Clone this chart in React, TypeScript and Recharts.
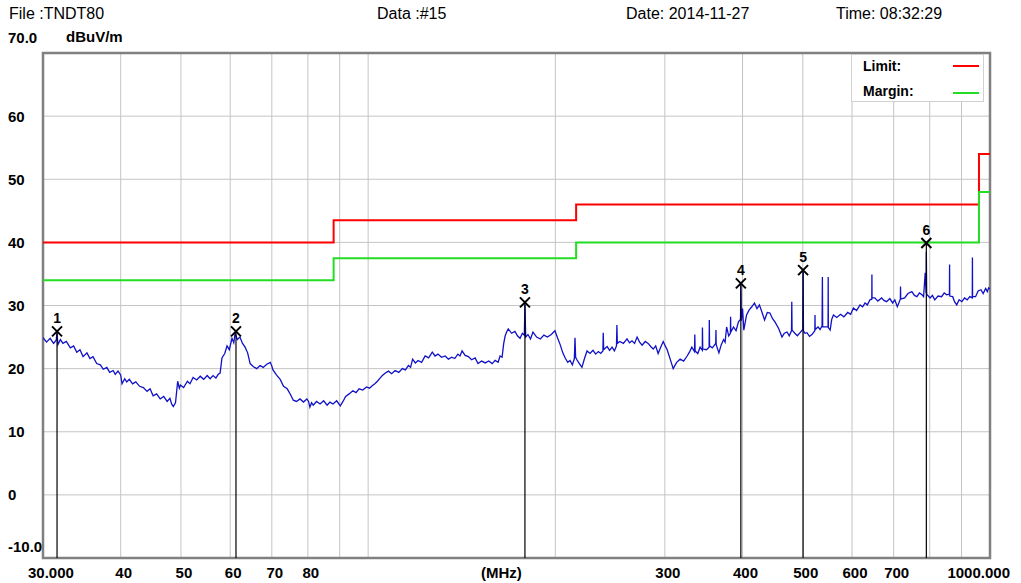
import {
  ComposedChart,
  Line,
  Scatter,
  XAxis,
  YAxis,
  CartesianGrid,
  ReferenceLine,
  ReferenceArea,
} from "recharts";

// measured trace as [MHz, dBuV/m], split by band
const TRACE_LOW: [number, number][] = [
  [30.0, 24.9], [30.4, 24.2], [30.8, 24.8], [31.2, 24.0], [31.5, 24.5], [31.6, 25.7], [31.7, 23.8],
  [32.0, 24.6], [32.3, 24.0], [32.7, 24.3], [33.2, 23.3], [33.6, 23.6], [34.0, 22.6], [34.4, 23.0],
  [34.8, 21.9], [35.3, 22.5], [35.7, 21.6], [36.1, 21.9], [36.6, 20.8], [37.1, 20.6], [37.5, 19.9],
  [38.0, 20.2], [38.4, 19.4], [38.9, 19.7], [39.2, 19.1], [39.6, 19.6], [40.0, 19.0], [40.2, 17.6],
  [40.6, 18.4], [40.9, 17.9], [41.3, 18.3], [41.8, 17.6], [42.3, 17.9], [42.9, 17.2], [43.5, 17.0],
  [44.1, 16.4], [44.6, 16.8], [45.1, 15.7], [45.7, 16.0], [46.3, 15.2], [46.9, 15.6], [47.5, 14.8],
  [48.0, 15.3], [48.3, 14.4], [48.6, 14.0], [49.0, 14.6], [49.4, 18.0], [49.7, 16.9], [49.9, 17.4],
  [50.5, 17.0], [51.2, 18.0], [51.7, 17.6], [52.3, 18.6], [53.0, 18.2], [53.7, 18.8], [54.4, 18.3],
  [55.1, 18.9], [55.7, 18.4], [56.3, 18.9], [56.9, 18.5], [57.4, 19.1], [57.8, 19.3], [58.2, 21.7],
  [58.8, 22.4], [59.3, 23.6], [59.8, 23.0], [60.4, 24.8], [60.8, 24.1], [61.1, 25.6], [61.6, 24.6],
  [62.2, 25.0], [62.8, 24.0], [63.4, 23.4], [64.0, 22.5], [64.6, 20.8], [65.4, 20.3], [66.2, 20.0],
  [67.0, 20.5], [67.8, 20.2], [68.7, 20.7], [69.6, 21.0], [70.0, 20.4], [70.3, 19.8], [71.2, 19.0],
  [72.2, 18.3], [73.1, 17.2], [74.1, 16.8], [75.0, 15.9], [75.8, 15.0], [76.7, 14.8], [77.7, 15.2],
  [78.7, 14.7], [79.7, 15.2], [80.2, 14.8], [80.6, 13.9], [81.1, 14.6], [81.6, 14.2], [82.6, 14.8],
  [83.7, 14.4], [84.8, 14.9], [85.9, 14.2], [86.8, 14.7], [87.8, 14.4], [89.0, 14.9], [90.2, 14.1],
  [91.1, 14.8], [92.0, 15.6], [93.2, 16.0], [94.5, 16.5], [95.6, 16.2], [96.7, 16.8], [98.0, 16.6],
  [99.4, 17.1],
];
const TRACE_MID: [number, number][] = [
  [100.5, 16.9], [101.5, 17.3], [102.5, 17.6], [103.5, 18.0], [104.5, 18.5], [105.4, 18.9],
  [106.6, 19.3], [107.8, 19.6], [109.1, 19.2], [110.5, 19.7], [112.0, 19.4], [113.5, 20.0],
  [114.8, 19.8], [116.1, 20.5], [117.0, 20.2], [117.9, 21.5], [119.1, 20.9], [120.3, 21.3],
  [121.9, 21.0], [123.5, 22.0], [125.1, 21.7], [126.8, 22.6], [128.1, 22.0], [129.5, 22.3],
  [131.2, 21.8], [133.0, 22.0], [134.6, 21.5], [136.3, 21.8], [137.8, 21.6], [139.4, 22.3],
  [140.5, 22.0], [141.6, 22.8], [143.2, 22.1], [144.9, 21.9], [146.7, 21.4], [148.6, 21.7],
  [150.2, 20.8], [152.2, 21.2], [154.3, 20.9], [156.3, 21.2], [158.3, 20.8], [160.0, 21.3],
  [161.8, 21.0], [163.0, 22.0], [164.2, 21.8], [165.2, 24.0], [166.1, 25.2], [167.0, 25.8],
  [168.0, 26.3], [170.1, 25.6], [172.2, 25.9], [173.8, 25.2], [175.5, 24.8], [177.0, 25.6],
  [178.3, 25.3], [178.7, 30.2], [179.2, 25.0], [180.7, 25.4], [182.4, 24.7], [184.1, 25.8],
  [186.6, 25.0], [189.2, 24.7], [191.7, 25.3], [194.2, 25.0], [197.0, 25.4], [199.7, 26.0],
  [201.6, 24.9], [203.6, 23.8], [205.6, 22.5], [207.6, 21.6], [209.4, 21.0], [211.2, 21.3],
  [213.0, 20.6], [214.6, 21.6], [215.1, 24.9], [215.6, 21.8], [216.6, 21.4], [218.6, 20.8],
  [220.7, 20.2], [222.8, 21.6], [224.9, 22.8], [227.4, 22.4], [229.9, 22.9], [232.2, 22.3],
  [234.5, 22.7], [236.6, 22.4], [238.5, 22.8], [238.8, 25.7], [239.2, 23.0], [242.3, 23.5],
  [244.5, 22.9], [246.7, 23.4], [248.9, 22.8], [250.8, 23.6], [251.2, 26.9], [251.6, 24.0],
  [253.9, 24.3], [257.3, 24.0], [260.8, 24.7], [263.2, 24.1], [265.6, 24.4], [268.2, 24.0],
  [270.7, 25.0], [273.2, 24.2], [275.8, 23.7], [279.0, 24.3], [282.0, 24.0], [284.7, 23.5],
  [287.4, 23.1], [290.0, 23.6], [292.6, 22.4], [295.4, 23.4], [298.2, 24.3],
];
const TRACE_HIGH: [number, number][] = [
  [300.4, 23.6], [302.6, 23.0], [306.0, 21.5], [309.4, 20.0], [313.4, 21.0], [317.5, 21.5],
  [321.6, 21.2], [325.8, 22.0], [328.6, 22.6], [331.5, 23.4], [334.8, 22.7], [335.2, 25.4],
  [335.6, 22.8], [338.9, 22.4], [341.8, 23.4], [344.6, 22.9], [344.8, 26.5], [345.2, 23.1],
  [350.0, 23.0], [353.4, 23.4], [353.7, 27.7], [354.0, 23.6], [357.6, 23.3], [362.2, 24.0],
  [362.5, 26.1], [362.8, 23.8], [366.5, 22.5], [369.7, 23.8], [372.9, 24.6], [375.0, 24.2],
  [377.1, 26.6], [380.0, 25.2], [382.4, 25.6], [382.7, 28.2], [383.0, 25.8], [386.9, 26.6],
  [390.5, 26.0], [394.0, 27.4], [397.0, 27.8], [397.5, 33.2], [398.2, 27.6], [400.0, 29.5],
  [401.9, 26.1], [406.0, 28.5], [410.0, 29.3], [414.0, 29.8], [418.0, 30.4], [422.0, 29.5],
  [425.8, 30.1], [430.0, 28.9], [434.0, 27.7], [438.4, 28.9], [442.7, 28.8], [447.0, 27.9],
  [451.0, 27.4], [457.0, 26.4], [462.9, 25.0], [467.0, 25.6], [471.6, 25.8], [475.5, 25.2],
  [479.5, 26.0], [480.0, 30.6], [480.5, 26.1], [485.4, 25.6], [490.0, 25.2], [495.0, 25.7],
  [500.0, 26.2], [500.5, 35.3], [501.2, 26.0], [504.0, 25.6], [507.7, 25.7], [512.5, 25.1],
  [517.2, 25.4], [522.8, 26.0], [523.1, 28.5], [523.4, 26.2], [529.0, 26.6], [533.0, 26.2],
  [537.0, 26.8], [537.6, 34.5], [538.2, 26.6], [543.2, 26.6], [549.0, 26.6], [549.3, 34.5],
  [549.6, 26.5], [553.3, 26.1], [556.5, 27.8], [560.0, 28.5], [567.0, 28.1], [575.0, 28.6],
  [582.0, 28.2], [590.5, 28.9], [597.0, 28.6], [603.0, 29.6], [610.0, 29.2], [618.0, 30.1],
  [624.0, 29.8], [629.6, 30.4], [635.0, 30.1], [641.2, 30.9], [645.5, 31.0], [645.8, 34.9],
  [646.1, 31.2], [652.9, 31.2], [660.0, 30.7], [669.5, 31.2], [675.0, 30.8], [682.0, 30.6],
  [690.0, 31.1], [697.5, 30.4], [703.0, 30.9], [709.5, 29.8], [717.5, 31.0], [718.0, 33.0],
  [718.5, 31.0], [729.0, 31.2], [738.0, 31.9], [748.7, 32.2], [756.0, 31.6], [763.0, 31.4],
  [770.0, 32.0], [777.4, 31.7], [782.0, 31.4], [786.7, 35.2], [789.5, 32.0], [790.0, 38.5],
  [791.0, 31.8], [801.0, 31.2], [808.0, 31.6], [815.0, 30.9], [825.0, 31.5], [836.0, 31.4],
  [844.0, 32.0], [852.0, 31.7], [860.5, 31.8], [861.0, 36.5], [861.5, 31.5], [871.0, 31.4],
  [877.0, 30.6], [884.0, 30.1], [892.0, 30.9], [901.0, 30.6], [910.0, 31.2], [919.0, 30.9],
  [928.0, 31.4], [936.5, 31.2], [937.0, 37.6], [937.5, 31.4], [948.0, 31.4], [957.0, 32.3],
  [967.0, 32.5], [975.0, 31.9], [984.0, 32.7], [990.0, 32.2], [995.0, 32.8], [1000.0, 32.6],
];

// limit line (stepped) and margin line
const LIMIT_MHZ = [30, 88, 216, 960, 1000];
const LIMIT_DBUV = [40, 43.5, 46, 54, 54];
const MARGIN_DBUV = [34, 37.5, 40, 48, 48];

// peak markers
const MARKER_NO = ["1", "2", "3", "4", "5", "6"];
const MARKER_MHZ = [31.6, 61.3, 178.7, 397.5, 500.5, 790];
const MARKER_DBUV = [25.9, 25.9, 30.5, 33.5, 35.6, 39.9];

const Y_TICKS = [-10, 0, 10, 20, 30, 40, 50, 60, 70];
const X_GRID = [40, 50, 60, 70, 80, 90, 100, 200, 300, 400, 500, 600, 700, 800, 900];
const X_TICKS = [30, 40, 50, 60, 70, 80, 162, 300, 400, 500, 600, 700, 1000];
const X_LABELS: Record<number, string> = { 30: "30.000", 162: "(MHz)", 1000: "1000.000" };
const Y_LABELS: Record<number, string> = { 70: "70.0", [-10]: "-10.0" };

const FONT = "'Liberation Sans', Arial, sans-serif";
const TRACE_COLOR = "#1010c8";
const LIMIT_COLOR = "#ff0000";
const MARGIN_COLOR = "#22dd22";

const trace = [...TRACE_LOW, ...TRACE_MID, ...TRACE_HIGH].map(([f, v]) => ({ f, v }));
const limit = LIMIT_MHZ.map((f, i) => ({ f, v: LIMIT_DBUV[i] }));
const margin = LIMIT_MHZ.map((f, i) => ({ f, v: MARGIN_DBUV[i] }));
const markers = MARKER_MHZ.map((f, i) => ({ f, v: MARKER_DBUV[i], no: MARKER_NO[i] }));

function XTick({ x, y, payload }: any) {
  const v = payload.value;
  const label = X_LABELS[v] ?? String(v);
  let anchor: "start" | "middle" | "end" = "middle";
  let tx = x + 3;
  if (v === 30) {
    anchor = "start";
    tx = x - 15;
  } else if (v === 1000) {
    anchor = "end";
    tx = x + 20;
  }
  return (
    <text x={tx} y={y} dy={12} textAnchor={anchor} fontFamily={FONT} fontSize={15} fontWeight="bold" fill="#000">
      {label}
    </text>
  );
}

function YTick({ y, payload }: any) {
  const v = payload.value;
  const label = Y_LABELS[v] ?? String(v);
  const shift = v === 70 ? -16 : v === -10 ? -12 : 0;
  return (
    <text x={8} y={y + shift} dominantBaseline="central" fontFamily={FONT} fontSize={15} fontWeight="bold" fill="#000">
      {label}
    </text>
  );
}

function MarkerShape({ cx, cy, payload }: any) {
  const s = 5;
  return (
    <g>
      <path
        d={`M${cx - s},${cy - s}L${cx + s},${cy + s}M${cx + s},${cy - s}L${cx - s},${cy + s}`}
        stroke="#000"
        strokeWidth={2}
      />
      <text x={cx} y={cy - 8} textAnchor="middle" fontFamily={FONT} fontSize={14} fontWeight="bold" fill="#000">
        {payload.no}
      </text>
    </g>
  );
}

export default function App() {
  const header: React.CSSProperties = {
    position: "absolute",
    top: 4,
    fontFamily: FONT,
    fontSize: 16,
    lineHeight: "20px",
    color: "#000",
    whiteSpace: "nowrap",
  };
  return (
    <div style={{ position: "absolute", left: 0, top: 0, width: 1021, height: 583, background: "#fff" }}>
      <div style={{ ...header, left: 9 }}>File :TNDT80</div>
      <div style={{ ...header, left: 377 }}>Data :#15</div>
      <div style={{ ...header, left: 626 }}>Date: 2014-11-27</div>
      <div style={{ ...header, left: 836 }}>Time: 08:32:29</div>
      <div
        style={{
          position: "absolute",
          left: 66,
          top: 28,
          fontFamily: FONT,
          fontSize: 15,
          fontWeight: "bold",
          lineHeight: "18px",
        }}
      >
        dBuV/m
      </div>

      <ComposedChart
        width={1021}
        height={583}
        margin={{ top: 53, right: 31, bottom: 0, left: 8 }}
        style={{ position: "absolute", left: 0, top: 0 }}
      >
        <CartesianGrid
          stroke="#c4c4c4"
          strokeWidth={1}
          verticalValues={X_GRID}
          horizontalValues={Y_TICKS}
        />
        <XAxis
          type="number"
          dataKey="f"
          scale="log"
          domain={[30, 1000]}
          allowDataOverflow
          ticks={X_TICKS}
          interval={0}
          height={25}
          axisLine={false}
          tickLine={false}
          tick={<XTick />}
        />
        <YAxis
          type="number"
          dataKey="v"
          domain={[-10, 70]}
          allowDataOverflow
          ticks={Y_TICKS}
          interval={0}
          width={35}
          axisLine={false}
          tickLine={false}
          tick={<YTick />}
        />
        <Line
          data={limit}
          dataKey="v"
          type="stepAfter"
          stroke={LIMIT_COLOR}
          strokeWidth={2}
          dot={false}
          isAnimationActive={false}
        />
        <Line
          data={margin}
          dataKey="v"
          type="stepAfter"
          stroke={MARGIN_COLOR}
          strokeWidth={2}
          dot={false}
          isAnimationActive={false}
        />
        <Line
          data={trace}
          dataKey="v"
          type="linear"
          stroke={TRACE_COLOR}
          strokeWidth={1.3}
          dot={false}
          isAnimationActive={false}
        />
        {markers.map((m) => (
          <ReferenceLine
            key={m.no}
            segment={[
              { x: m.f, y: -10 },
              { x: m.f, y: m.v },
            ]}
            stroke="#000"
            strokeWidth={1.2}
          />
        ))}
        <Scatter data={markers} shape={<MarkerShape />} isAnimationActive={false} />
        <ReferenceArea x1={30} x2={1000} y1={-10} y2={70} fill="none" stroke="#808080" strokeWidth={2.5} />
      </ComposedChart>

      {/* legend box */}
      <div
        style={{
          position: "absolute",
          left: 851,
          top: 54,
          width: 133,
          height: 48,
          background: "#fff",
          border: "1px solid #d0d0d0",
          boxSizing: "border-box",
          fontFamily: FONT,
          fontSize: 14,
          fontWeight: "bold",
        }}
      >
        <div style={{ position: "absolute", left: 11, top: 2, lineHeight: "18px" }}>Limit:</div>
        <div style={{ position: "absolute", left: 101, top: 10, width: 26, height: 2, background: LIMIT_COLOR }} />
        <div style={{ position: "absolute", left: 11, top: 27, lineHeight: "18px" }}>Margin:</div>
        <div style={{ position: "absolute", left: 101, top: 37, width: 26, height: 2, background: MARGIN_COLOR }} />
      </div>
    </div>
  );
}
